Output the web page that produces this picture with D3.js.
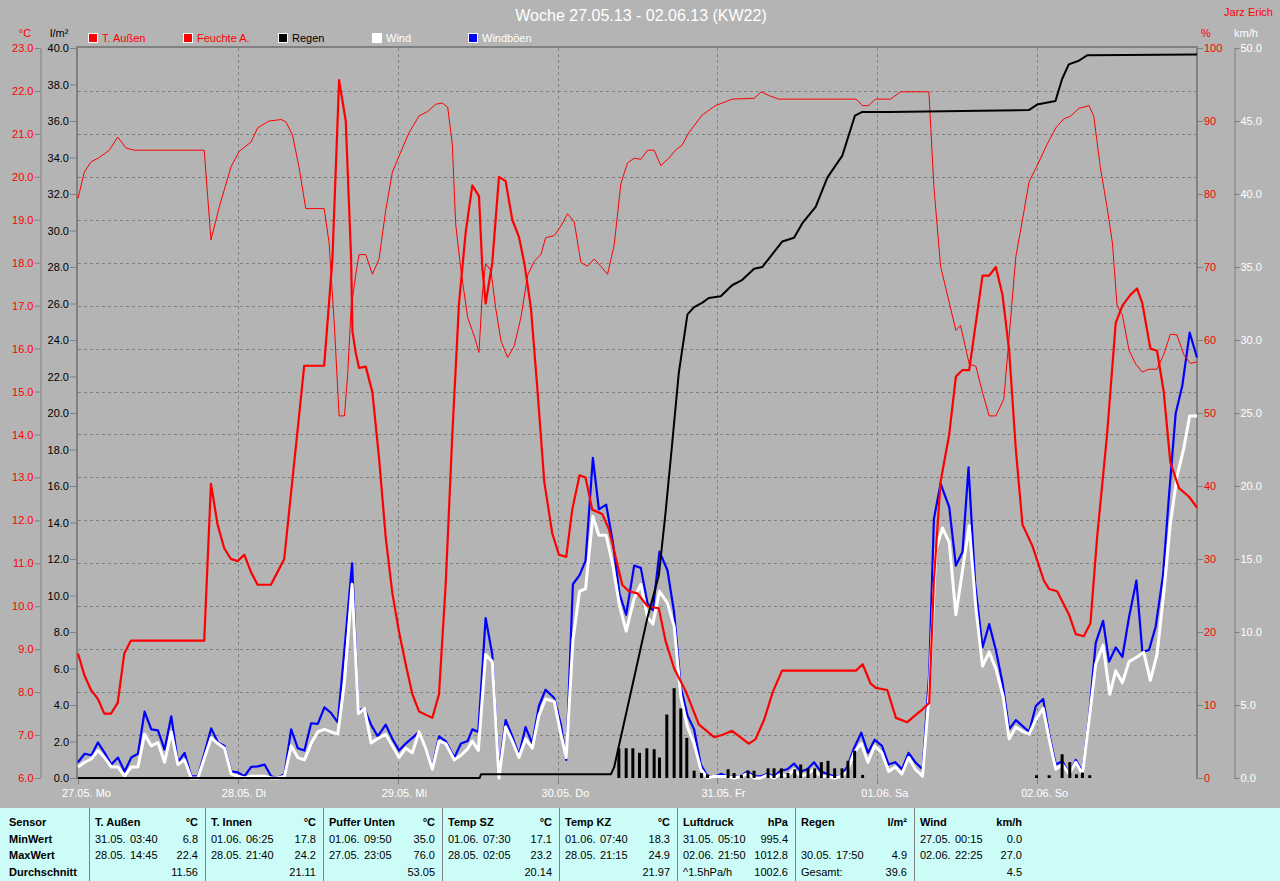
<!DOCTYPE html>
<html><head><meta charset="utf-8">
<script src="https://cdn.jsdelivr.net/npm/d3@7"></script>
<style>
html,body{margin:0;padding:0;background:#b4b4b4;overflow:hidden}
svg{display:block}
text{font-family:"Liberation Sans",Arial,sans-serif}
</style>
</head><body>
<svg id="c" width="1280" height="881"></svg>
<script>
// ---------- DATA (hours since 27.05.13 00:00) ----------
const dayLabels = ["27.05. Mo","28.05. Di","29.05. Mi","30.05. Do","31.05. Fr","01.06. Sa","02.06. So"];
const tempTicks = [6,7,8,9,10,11,12,13,14,15,16,17,18,19,20,21,22,23];
const rainTicks = [0,2,4,6,8,10,12,14,16,18,20,22,24,26,28,30,32,34,36,38,40];
const humTicks = [0,10,20,30,40,50,60,70,80,90,100];
const windTicks = [0,5,10,15,20,25,30,35,40,45,50];

const tempAussen = [[0,8.9],[0.95,8.4],[1.95,8.05],[2.96,7.85],[3.95,7.5],[4.95,7.5],[5.96,7.75],[6.95,8.9],[7.95,9.2],[18.95,9.2],[19.96,12.85],[20.96,11.9],[21.95,11.35],[22.96,11.1],[23.97,11.05],[24.96,11.2],[25.96,10.8],[26.97,10.5],[28.96,10.5],[29.97,10.8],[30.96,11.1],[31.96,12.6],[32.97,14.1],[33.96,15.6],[36.96,15.6],[38.2,18.1],[39.2,22.25],[40.2,21.3],[41,18.1],[41.2,16.4],[41.7,15.9],[42.2,15.55],[43.2,15.58],[44.2,14.98],[45.2,13.45],[46.2,11.6],[47.2,10.3],[48.2,9.4],[49.2,8.65],[50.2,7.95],[51.2,7.55],[53.2,7.4],[54.2,7.95],[55.2,10.5],[56.2,14.0],[57.2,17.05],[58.2,18.7],[59.2,19.8],[60.2,19.55],[60.7,17.9],[61.2,17.05],[62.2,18.0],[63.2,20.0],[64.2,19.9],[65.2,19.0],[66.2,18.6],[67,18.0],[68,16.95],[69,15.0],[70,12.9],[71.2,11.7],[72.2,11.2],[73.3,11.15],[74.2,12.25],[75.3,13.05],[76.2,13.0],[77.2,12.25],[78.7,12.15],[79.7,11.8],[80.7,11.15],[81.7,10.5],[82.7,10.35],[84,10.3],[85.5,10.0],[87.2,9.95],[88.2,9.2],[89.5,8.55],[91.3,8.0],[93.2,7.25],[95.5,6.95],[96.7,7.0],[98.2,7.1],[100.7,6.8],[101.7,6.9],[103,7.35],[104.3,8.0],[105.7,8.5],[116.8,8.5],[117.8,8.65],[119,8.2],[119.8,8.1],[121.5,8.05],[122.8,7.4],[124.5,7.3],[126,7.5],[126.8,7.6],[127.8,7.75],[128.5,10.6],[129.5,12.9],[130.8,14.0],[131.8,15.35],[132.8,15.5],[133.8,15.5],[135.8,17.7],[136.8,17.7],[137.8,17.9],[138.8,17.25],[139.8,15.95],[140.8,13.65],[141.8,11.9],[143.3,11.4],[145,10.6],[145.8,10.4],[147,10.35],[148.8,9.8],[149.8,9.35],[151,9.3],[152,9.6],[153,11.6],[154.5,14.0],[155.8,16.6],[156.8,17.0],[158,17.25],[159,17.4],[159.8,17.05],[161,16.0],[162,15.95],[163,15.0],[164,13.35],[165.3,12.75],[166.8,12.55],[168,12.3]];

const feuchteA = [[0,79.4],[0.95,83.0],[1.95,84.4],[3.2,85.0],[4.7,86.0],[5.96,87.8],[7.2,86.3],[8.45,86.0],[18.95,86.0],[19.96,73.7],[21.2,78.2],[22.96,83.7],[24.2,85.85],[25.96,87.1],[26.97,89.05],[28.7,90.0],[30.5,90.2],[31.2,89.9],[32.2,88.1],[33.2,83.6],[34.2,78.0],[36.96,78.0],[37.7,73.3],[38.5,61.8],[39.2,49.6],[40,49.6],[40.5,55.4],[41,64.4],[41.5,67.6],[41.7,69],[42.2,71.7],[43.2,71.7],[44.2,69.0],[45.2,71.1],[46.2,77.8],[47.2,83.0],[48.2,85.2],[49.7,88.4],[51.2,90.7],[52.5,91.3],[53.7,92.3],[54.7,92.45],[55.5,91.9],[56.2,86.8],[56.7,75.9],[57.5,69.5],[58.5,63.1],[59.5,60.5],[60.2,58.3],[60.7,66.3],[61.2,70.45],[62,69.5],[62.7,64.4],[63.5,59.9],[64.5,57.6],[65.5,59.2],[66.5,63.1],[67.5,68.85],[68.5,70.8],[69.5,71.7],[70.2,74.0],[71.5,74.3],[72.5,75.6],[73.5,77.3],[74.5,76.2],[75.5,70.6],[76.5,70.1],[77.5,71.1],[78.5,70.1],[79.5,69.0],[80.5,73.0],[81.5,81.4],[82.5,84.25],[83.5,84.9],[84.5,84.75],[85.5,86.0],[86.5,86.0],[87.5,83.9],[88.7,84.9],[89.7,86.0],[90.7,86.7],[91.7,88.4],[93.7,90.8],[95.7,92.1],[96.7,92.45],[98.2,93.0],[101.5,93.1],[102.6,94.0],[103.7,93.5],[105.2,93.0],[116.8,93.0],[117.8,92.1],[118.7,92.1],[119.7,93.0],[122,93.0],[123.5,94.0],[127.75,94.0],[128.5,81.0],[129.5,70.1],[130.5,66.3],[131.8,61.3],[132.5,62.0],[133.8,56.7],[134.8,56.4],[135.8,52.8],[136.8,49.6],[137.8,49.6],[139,51.9],[139.8,60.5],[140.8,71.4],[141.8,76.5],[142.8,81.7],[144,83.9],[145.5,86.8],[146.8,89.05],[148,90.3],[149,90.65],[150.3,91.75],[151.8,92.1],[152.5,90.65],[153.5,83.6],[154.5,78.15],[155.3,73.3],[156,64.7],[156.8,63.4],[157.8,58.6],[158.8,56.7],[159.8,55.6],[160.8,56.0],[162,56.0],[163,58.0],[164,60.8],[165,60.7],[166,58.0],[167,56.8],[168,57.0]];

const regenSumme = [[0,0],[60.3,0],[60.5,0.2],[80,0.2],[80.5,0.6],[83.8,6.0],[85.5,8.8],[87.2,11.1],[88.2,14.5],[89.2,18.3],[90.2,22.2],[91.5,25.4],[92.5,25.8],[93.75,26.05],[94.7,26.3],[96.5,26.4],[98.2,27.0],[99.75,27.3],[101.5,27.9],[102.75,28.0],[104.25,28.7],[105.75,29.4],[107.5,29.6],[108.75,30.4],[110.75,31.3],[112.5,32.9],[114.75,34.1],[116.65,36.3],[117.75,36.5],[121.75,36.5],[142.75,36.6],[144,36.9],[146.75,37.1],[147.75,38.3],[148.75,39.1],[150.25,39.3],[151.5,39.6],[168,39.65]];

const regenStunde = [[81.2,1.63],[82.3,1.63],[83.3,1.63],[84.3,1.38],[85.4,1.63],[86.5,1.58],[87.3,1.12],[88.4,3.48],[89.5,4.92],[90.5,3.81],[91.4,2.2],[92.5,0.4],[93.6,0.27],[94.5,0.2],[97.6,0.48],[98.5,0.27],[99.6,0.17],[100.6,0.4],[101.5,0.4],[103.6,0.53],[104.5,0.53],[105.6,0.53],[106.6,0.27],[107.6,0.48],[108.5,0.74],[109.6,0.53],[110.6,0.53],[111.6,0.87],[112.6,0.94],[113.6,0.53],[114.7,0.53],[115.6,0.94],[116.6,1.5],[117.8,0.17],[143.9,0.15],[145.8,0.15],[147.75,1.3],[148.9,0.87],[149.9,0.2],[150.8,0.3],[151.9,0.15]];

const wind = [[0,0.76],[1,1.08],[2,1.3],[3,1.88],[4,1.4],[5,0.76],[6,0.76],[7,0.12],[8,0.76],[9,0.76],[10,3.0],[11,2.2],[12,2.43],[13,1.08],[14,3.16],[15,0.92],[16,1.24],[17,0],[18,0],[19,1.4],[20,2.75],[21,2.36],[22,2.04],[23,0.28],[24,0.12],[25,0],[26,0.12],[27,0.12],[28,0.12],[29,0],[30,0],[31,0.12],[32,2.2],[33,1.4],[34,1.24],[35,2.36],[36,3.16],[37,3.33],[38,3.16],[39,3.0],[40,6.53],[41.15,13.27],[42.1,4.4],[43,4.77],[44,2.4],[45,2.7],[46.2,3.0],[47.2,2.2],[48.2,1.4],[49.2,2.04],[50.2,1.72],[51.2,3.16],[52.2,2.04],[53.2,0.6],[54.2,2.53],[55.2,2.36],[56.5,1.24],[57.5,1.56],[58.5,2.0],[59.2,2.53],[60.1,1.88],[61.2,8.46],[62.2,7.97],[63.2,0],[64.2,3.49],[65.2,2.53],[66.2,1.4],[67.2,2.68],[68.2,2.04],[69.2,4.29],[70.2,5.41],[71.5,5.25],[72.5,3.0],[73.3,1.4],[74.3,9.42],[75.3,12.79],[76.2,12.95],[77.3,17.92],[78.2,16.63],[79.3,16.63],[80.3,14.55],[81.3,11.82],[82.3,10.06],[83.5,12.3],[84.5,13.27],[85.5,11.03],[86.3,10.54],[87.3,12.79],[88.5,11.98],[89.5,10.38],[90.5,5.57],[91.5,3.49],[92.5,2.36],[93.5,0.6],[94.5,0],[95.5,0.12],[96.5,0.1],[97.5,0.1],[98.5,0],[99.5,0.1],[100.5,0.3],[101.5,0],[102.5,0],[103.5,0.2],[104.5,0],[105.5,0.28],[106.5,0.12],[107.5,0.6],[108.5,0.12],[109.5,0.28],[110.5,0.6],[111.5,0.12],[112.5,0.12],[113.5,0],[114.5,0.1],[115.5,0.45],[116.5,1.72],[117.6,2.36],[118.6,1.08],[119.6,2.2],[120.7,1.72],[121.7,0.45],[122.7,0.76],[123.7,0.28],[124.7,1.4],[125.7,0.6],[126.8,0.12],[127.8,5.89],[128.8,15.67],[129.8,17.12],[130.8,16.15],[131.8,11.18],[132.8,14.23],[133.8,17.27],[134.8,11.66],[135.8,7.66],[136.8,8.62],[137.8,7.49],[138.9,5.57],[139.8,2.68],[140.8,3.49],[141.8,3.2],[142.8,3.0],[143.8,4.0],[144.9,4.77],[145.8,2.68],[146.8,0.6],[147.8,0.92],[148.8,0.28],[149.8,1.08],[150.8,0.28],[151.8,3.97],[152.8,7.82],[153.9,9.1],[154.9,5.73],[155.8,7.34],[156.8,6.53],[157.8,7.97],[159,8.29],[160,8.62],[161,6.69],[162,8.46],[163,12.62],[164,17.43],[165,20.64],[166,22.56],[166.9,24.8],[168,24.8]];

const windboeen = [[0,1.08],[1,1.66],[2,1.56],[3,2.43],[4,1.72],[5,0.92],[6,1.4],[7,0.45],[8,1.4],[9,1.66],[10,4.55],[11,3.33],[12,3.26],[13,1.95],[14,4.23],[15,1.08],[16,1.72],[17,0.12],[18,0.12],[19,1.72],[20,3.4],[21,2.43],[22,2.2],[23,0.45],[24,0.38],[25,0.12],[26,0.76],[27,0.8],[28,0.92],[29,0.12],[30,0],[31,0.28],[32,3.33],[33,2.04],[34,1.88],[35,3.75],[36,3.71],[37,4.84],[38,4.45],[39,3.81],[40,8.77],[41.15,14.7],[42.1,4.6],[43,4.77],[44,3.65],[45,2.85],[46.2,3.65],[47.2,2.68],[48.2,1.88],[49.2,2.36],[50.2,2.75],[51.2,3.16],[52.2,2.04],[53.2,0.76],[54.2,2.85],[55.2,2.53],[56.5,1.4],[57.5,2.36],[58.5,2.53],[59.2,3.33],[60.1,3.16],[61.2,10.96],[62.2,8.46],[63.2,0.5],[64.2,3.97],[65.2,2.85],[66.2,1.56],[67.2,3.49],[68.2,2.36],[69.2,4.93],[70.2,6.05],[71.5,5.48],[72.5,3.65],[73.3,1.24],[74.3,13.27],[75.3,13.9],[76.2,14.87],[77.3,21.92],[78.2,18.4],[79.3,18.72],[80.3,16.15],[81.3,12.62],[82.3,11.18],[83.5,14.55],[84.5,14.39],[85.5,11.98],[86.3,11.5],[87.3,15.5],[88.5,14.23],[89.5,11.34],[90.5,6.21],[91.5,4.29],[92.5,3.33],[93.5,0.92],[94.5,0.12],[95.5,0.1],[96.5,0.28],[97.5,0.12],[98.5,0.1],[99.5,0.12],[100.5,0.45],[101.5,0.12],[102.5,0.12],[103.5,0.28],[104.5,0.12],[105.5,0.5],[106.5,0.6],[107.5,0.99],[108.5,0.45],[109.5,0.6],[110.5,1.08],[111.5,0.45],[112.5,0.28],[113.5,0.12],[114.5,0.12],[115.5,0.76],[116.5,2.04],[117.6,3.1],[118.6,1.72],[119.6,2.62],[120.7,2.2],[121.7,0.92],[122.7,1.08],[123.7,0.6],[124.7,1.72],[125.7,1.08],[126.8,0.6],[127.8,7.17],[128.5,17.75],[129.5,20.16],[130.8,18.55],[131.8,14.55],[132.8,15.5],[133.7,21.28],[134.7,13.27],[135.8,8.94],[136.8,10.54],[137.8,8.77],[138.8,6.53],[139.8,3.33],[140.8,3.97],[142.8,3.16],[143.8,4.93],[144.9,5.41],[145.8,3.0],[146.8,0.92],[147.8,1.14],[148.8,0.28],[149.8,1.24],[150.8,0.45],[151.8,4.29],[152.8,9.26],[153.9,10.77],[154.8,7.97],[155.8,8.94],[156.8,8.29],[157.8,11.03],[158.9,13.52],[159.8,8.62],[160.8,8.77],[161.8,10.38],[162.9,13.9],[163.8,19.36],[164.8,24.97],[165.8,26.89],[166.9,30.51],[168,28.8]];

const legendNames = ["T. Außen","Feuchte A.","Regen","Wind","Windböen"];

const tableHeaders = [["T. Außen","°C"],["T. Innen","°C"],["Puffer Unten","°C"],["Temp SZ","°C"],["Temp KZ","°C"],["Luftdruck","hPa"],["Regen","l/m²"],["Wind","km/h"]];
const tableRowNames = ["Sensor","MinWert","MaxWert","Durchschnitt"];
const tableMin = [["31.05.","03:40","6.8"],["01.06.","06:25","17.8"],["01.06.","09:50","35.0"],["01.06.","07:30","17.1"],["01.06.","07:40","18.3"],["31.05.","05:10","995.4"],["","",""],["27.05.","00:15","0.0"]];
const tableMax = [["28.05.","14:45","22.4"],["28.05.","21:40","24.2"],["27.05.","23:05","76.0"],["28.05.","02:05","23.2"],["28.05.","21:15","24.9"],["02.06.","21:50","1012.8"],["30.05.","17:50","4.9"],["02.06.","22:25","27.0"]];
const tableAvg = [["","11.56"],["","21.11"],["","53.05"],["","20.14"],["","21.97"],["^1.5hPa/h","1002.6"],["Gesamt:","39.6"],["","4.5"]];

// ---------- DRAW ----------
const W = 1280, H = 881;
const L = 78, R = 1197, T = 48, B = 778;
const BG = "#b4b4b4", GRID = "#808080";
const svg = d3.select("#c");
svg.append("rect").attr("width", W).attr("height", H).attr("fill", BG);

const x = d3.scaleLinear().domain([0, 168]).range([L, R]);
const yT = d3.scaleLinear().domain([6, 23]).range([B, T]);
const yR = d3.scaleLinear().domain([0, 40]).range([B, T]);
const yH = d3.scaleLinear().domain([0, 100]).range([B, T]);
const yW = d3.scaleLinear().domain([0, 50]).range([B, T]);

// grid
const grid = svg.append("g");
grid.selectAll("line.h").data(tempTicks.filter(t => t > 6 && t < 23)).join("line")
  .attr("x1", L).attr("x2", R).attr("y1", d => Math.round(yT(d)) + 0.5).attr("y2", d => Math.round(yT(d)) + 0.5)
  .attr("stroke", GRID).attr("stroke-dasharray", "3,3");
grid.selectAll("line.v").data(d3.range(1, 7)).join("line")
  .attr("y1", T).attr("y2", B).attr("x1", d => Math.round(x(d * 24)) + 0.5).attr("x2", d => Math.round(x(d * 24)) + 0.5)
  .attr("stroke", GRID).attr("stroke-dasharray", "3,3");

// axes
function styleAxis(g, color) {
  g.selectAll(".domain").attr("stroke", GRID);
  g.selectAll(".tick line").attr("stroke", GRID);
  g.selectAll(".tick text").attr("fill", color).style("font-size", "11px").style("font-family", "'Liberation Sans',Arial,sans-serif");
}
const axT = svg.append("g").attr("transform", "translate(40.5,0)")
  .call(d3.axisLeft(yT).tickValues(tempTicks).tickFormat(d3.format(".1f")).tickSize(6).tickSizeOuter(0).tickPadding(1));
styleAxis(axT, "#ff0000");
const axR = svg.append("g").attr("transform", "translate(76,0)")
  .call(d3.axisLeft(yR).tickValues(rainTicks).tickFormat(d3.format(".1f")).tickSize(6).tickSizeOuter(0).tickPadding(1));
styleAxis(axR, "#000000");
axR.select(".domain").remove();
const axH = svg.append("g").attr("transform", "translate(1198,0)")
  .call(d3.axisRight(yH).tickValues(humTicks).tickFormat(d3.format("d")).tickSize(5).tickSizeOuter(0).tickPadding(1));
styleAxis(axH, "#ff0000");
axH.select(".domain").remove();
const axW = svg.append("g").attr("transform", "translate(1234.5,0)")
  .call(d3.axisRight(yW).tickValues(windTicks).tickFormat(d3.format(".1f")).tickSize(5).tickSizeOuter(0).tickPadding(1));
styleAxis(axW, "#ffffff");

// frame
svg.append("line").attr("x1", 77).attr("x2", 77).attr("y1", T - 1).attr("y2", B + 1).attr("stroke", GRID).attr("stroke-width", 2);
svg.append("line").attr("x1", 76).attr("x2", R + 1).attr("y1", T - 1).attr("y2", T - 1).attr("stroke", GRID).attr("stroke-width", 2);
svg.append("line").attr("x1", R).attr("x2", R).attr("y1", T - 1).attr("y2", B + 1).attr("stroke", GRID).attr("stroke-width", 2);

// bottom day ticks and labels
svg.append("g").selectAll("line").data(d3.range(0, 7)).join("line")
  .attr("x1", d => Math.round(x(d * 24)) + 0.5).attr("x2", d => Math.round(x(d * 24)) + 0.5)
  .attr("y1", B).attr("y2", B + 6).attr("stroke", GRID);
svg.append("g").selectAll("text").data(dayLabels).join("text")
  .attr("x", (d, i) => x(i * 24) - 16).attr("y", 797)
  .attr("fill", "#ffffff").style("font-size", "11px").text(d => d);

// series lines
const line = (ys) => d3.line().x(d => x(d[0])).y(d => ys(d[1]));
const plot = svg.append("g");
plot.append("path").datum(windboeen).attr("d", line(yW)).attr("fill", "none").attr("stroke", "#0000ff").attr("stroke-width", 2.2).attr("stroke-linejoin", "round");
plot.append("path").datum(wind).attr("d", line(yW)).attr("fill", "none").attr("stroke", "#ffffff").attr("stroke-width", 3).attr("stroke-linejoin", "round");
plot.append("path").datum(feuchteA).attr("d", line(yH)).attr("fill", "none").attr("stroke", "#ff0000").attr("stroke-width", 1);
plot.append("path").datum(tempAussen).attr("d", line(yT)).attr("fill", "none").attr("stroke", "#ff0000").attr("stroke-width", 2.2).attr("stroke-linejoin", "round");
plot.selectAll("rect.bar").data(regenStunde).join("rect")
  .attr("x", d => x(d[0]) - 1.5).attr("width", 3)
  .attr("y", d => yR(d[1])).attr("height", d => B - yR(d[1])).attr("fill", "#000000");
plot.append("path").datum(regenSumme).attr("d", line(yR)).attr("fill", "none").attr("stroke", "#000000").attr("stroke-width", 2).attr("stroke-linejoin", "round");

// title & header texts
svg.append("text").attr("x", 641).attr("y", 21).attr("text-anchor", "middle").attr("fill", "#ffffff")
  .style("font-size", "16px").text("Woche 27.05.13 - 02.06.13 (KW22)");
svg.append("text").attr("x", 1273).attr("y", 16).attr("text-anchor", "end").attr("fill", "#ff0000")
  .style("font-size", "11px").text("Jarz Erich");
svg.append("text").attr("x", 25).attr("y", 37).attr("text-anchor", "middle").attr("fill", "#ff0000").style("font-size", "11px").text("°C");
svg.append("text").attr("x", 50).attr("y", 37).attr("fill", "#000000").style("font-size", "11px").text("l/m²");
svg.append("text").attr("x", 1201).attr("y", 37).attr("fill", "#ff0000").style("font-size", "11px").text("%");
svg.append("text").attr("x", 1234).attr("y", 37).attr("fill", "#ffffff").style("font-size", "11px").text("km/h");

// legend
const legColors = ["#ff0000", "#ff0000", "#000000", "#ffffff", "#0000ff"];
const legText = ["#ff0000", "#ff0000", "#000000", "#ffffff", "#ffffff"];
const legX = [88, 183, 278, 372, 468];
const leg = svg.append("g").selectAll("g").data(legendNames).join("g");
leg.append("rect").attr("x", (d, i) => legX[i] + 0.5).attr("y", 33.5).attr("width", 9).attr("height", 9)
  .attr("fill", (d, i) => legColors[i]).attr("stroke", "#ffffff").attr("stroke-width", 1);
leg.append("text").attr("x", (d, i) => legX[i] + 14).attr("y", 42).attr("fill", (d, i) => legText[i])
  .style("font-size", "11px").text(d => d);

// table
const tbl = svg.append("g");
tbl.append("rect").attr("x", 0).attr("y", 808).attr("width", W).attr("height", H - 808).attr("fill", "#ccfcf8");
const seps = [89, 205, 323, 442, 559, 677, 795, 914];
tbl.selectAll("line").data(seps).join("line")
  .attr("x1", d => d + 0.5).attr("x2", d => d + 0.5).attr("y1", 808).attr("y2", H).attr("stroke", GRID);
const rowY = [826, 843, 859, 876];
tbl.selectAll("text.rn").data(tableRowNames).join("text").attr("class", "rn")
  .attr("x", 9).attr("y", (d, i) => rowY[i]).style("font-size", "11px").style("font-weight", "bold").attr("fill", "#000").text(d => d);
const colRight = (k) => (k < 7 ? seps[k + 1] - 7 : 1022);
tableHeaders.forEach((h, k) => {
  const s = seps[k];
  tbl.append("text").attr("x", s + 6).attr("y", rowY[0]).style("font-size", "11px").style("font-weight", "bold").text(h[0]);
  tbl.append("text").attr("x", colRight(k)).attr("y", rowY[0]).attr("text-anchor", "end").style("font-size", "11px").style("font-weight", "bold").text(h[1]);
  [tableMin[k], tableMax[k]].forEach((r, j) => {
    tbl.append("text").attr("x", s + 6).attr("y", rowY[j + 1]).style("font-size", "11px").text(r[0]);
    tbl.append("text").attr("x", s + 41).attr("y", rowY[j + 1]).style("font-size", "11px").text(r[1]);
    tbl.append("text").attr("x", colRight(k)).attr("y", rowY[j + 1]).attr("text-anchor", "end").style("font-size", "11px").text(r[2]);
  });
  tbl.append("text").attr("x", s + 6).attr("y", rowY[3]).style("font-size", "11px").text(tableAvg[k][0]);
  tbl.append("text").attr("x", colRight(k)).attr("y", rowY[3]).attr("text-anchor", "end").style("font-size", "11px").text(tableAvg[k][1]);
});
</script>
</body></html>
